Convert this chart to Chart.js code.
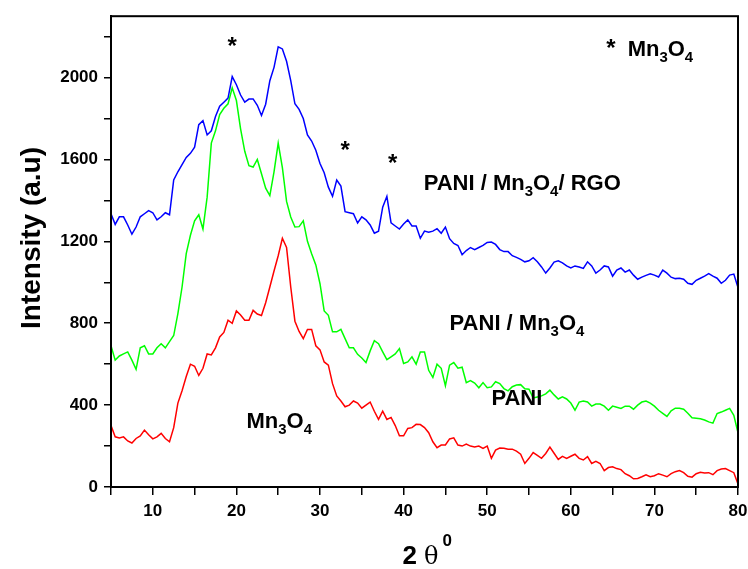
<!DOCTYPE html>
<html>
<head>
<meta charset="utf-8">
<script src="https://cdn.jsdelivr.net/npm/chart.js@4"></script>
<style>
  html, body { margin: 0; padding: 0; background: #fff; }
  #wrap { width: 748px; height: 569px; }
</style>
</head>
<body>
<div id="wrap"><canvas id="xrd"></canvas></div>
<script>
// 2-theta positions (degrees), shared by all three scans
const twoTheta = [];
for (let i = 0; i <= 150; i++) twoTheta.push(5 + i * 0.5);

// PANI / Mn3O4 / RGO
const rgoCounts = [
  1335, 1283, 1320, 1320, 1280, 1235, 1270, 1320, 1335, 1350,
  1340, 1305, 1320, 1340, 1330, 1500, 1540, 1575, 1610, 1630,
  1660, 1770, 1790, 1720, 1740, 1810, 1860, 1880, 1900, 2005,
  1965, 1915, 1880, 1895, 1896, 1865, 1815, 1870, 1985, 2050,
  2150, 2140, 2080, 1985, 1872, 1845, 1800, 1720, 1690, 1645,
  1580, 1535, 1465, 1420, 1500, 1470, 1345, 1340, 1335, 1290,
  1320, 1305, 1280, 1240, 1250, 1367, 1420, 1290, 1275, 1260,
  1285, 1305, 1275, 1275, 1215, 1250, 1245, 1250, 1262, 1240,
  1270, 1213, 1190, 1180, 1135, 1155, 1170, 1160, 1170, 1180,
  1195, 1197, 1185, 1160, 1150, 1150, 1130, 1122, 1112, 1100,
  1105, 1120, 1100, 1075, 1045, 1070, 1099, 1105, 1095, 1080,
  1070, 1080, 1075, 1068, 1100, 1080, 1045, 1060, 1080, 1075,
  1030, 1060, 1070, 1050, 1060, 1035, 1015, 1025, 1034, 1042,
  1035, 1026, 1060, 1045, 1025, 1018, 1020, 1015, 995, 990,
  1010, 1020, 1030, 1042, 1030, 1020, 995, 1010, 1035, 1040,
  975
];

// PANI / Mn3O4
const composite = [
  690, 620, 640, 650, 660, 620, 575, 680, 690, 650,
  650, 680, 700, 680, 710, 740, 847, 977, 1140, 1230,
  1300, 1330, 1260, 1416, 1680, 1740, 1820, 1850, 1872, 1950,
  1888, 1750, 1640, 1570, 1563, 1600, 1530, 1460, 1424, 1540,
  1680, 1560, 1395, 1319, 1270, 1272, 1300, 1200, 1140, 1085,
  993, 860, 839, 758, 758, 770, 725, 680, 680, 648,
  630, 608, 665, 715, 700, 660, 622, 636, 650, 676,
  603, 611, 636, 600, 660, 660, 570, 535, 600, 580,
  495, 595, 608, 580, 585, 510, 520, 508, 485, 510,
  485, 489, 514, 505, 481, 470, 490, 498, 500, 480,
  478, 435, 440, 445, 455, 473, 450, 430, 440, 430,
  410, 375, 415, 420, 415, 395, 405, 405, 395, 375,
  395, 390, 384, 395, 395, 380, 400, 415, 420, 410,
  395, 375, 360, 345, 372, 385, 385, 380, 360, 338,
  336, 333, 327, 318, 312, 359, 366, 375, 384, 350,
  265
];

// Mn3O4
const oxide = [
  300, 245, 240, 245, 225, 215, 237, 250, 278, 255,
  235, 245, 262, 237, 221, 290, 410, 470, 540, 600,
  590, 545, 580, 650, 645, 680, 733, 755, 815, 800,
  860, 840, 815, 815, 863, 845, 838, 900, 977, 1055,
  1130, 1215, 1170, 977, 810, 760, 725, 770, 770, 690,
  670, 611, 595, 505, 445, 420, 392, 400, 420, 410,
  385, 400, 415, 370, 330, 370, 330, 340, 300, 250,
  250, 286, 290, 306, 305, 290, 265, 221, 192, 205,
  205, 235, 240, 205, 200, 210, 200, 195, 200, 189,
  200, 140, 180, 190, 189, 185, 185, 175, 160, 115,
  140, 168, 155, 140, 164, 195, 165, 135, 150, 140,
  150, 160, 140, 132, 148, 115, 125, 115, 80, 95,
  99, 90, 85, 65, 55, 40, 42, 50, 59, 50,
  55, 65, 58, 50, 65, 75, 80, 70, 52, 48,
  65, 72, 68, 70, 60, 80, 88, 90, 80, 70,
  15
];

const FONT = '"Liberation Sans", Arial, sans-serif';

function pts(ys) {
  return ys.map((y, i) => ({ x: twoTheta[i], y: y }));
}

// text with subscript pieces, e.g. Mn3O4
function richText(ctx, parts, x, y, size) {
  let cx = x;
  parts.forEach(p => {
    const s = p.sub ? size * 0.68 : size;
    ctx.font = 'bold ' + s + 'px ' + FONT;
    ctx.fillText(p.t, cx, p.sub ? y + size * 0.28 : y);
    cx += ctx.measureText(p.t).width;
  });
}

const notes = [
  { x: 19.5, y: 2155, parts: [{ t: '*' }], center: true },
  { x: 33.0, y: 1645, parts: [{ t: '*' }], center: true },
  { x: 38.7, y: 1585, parts: [{ t: '*' }], center: true },
  { x: 64.8, y: 2145, parts: [{ t: '*' }], center: true },
  { x: 66.8, y: 2107, parts: [{ t: 'Mn' }, { t: '3', sub: true }, { t: 'O' }, { t: '4', sub: true }] },
  { x: 42.4, y: 1450, parts: [{ t: 'PANI / Mn' }, { t: '3', sub: true }, { t: 'O' }, { t: '4', sub: true }, { t: '/ RGO' }] },
  { x: 45.5, y: 766, parts: [{ t: 'PANI / Mn' }, { t: '3', sub: true }, { t: 'O' }, { t: '4', sub: true }] },
  { x: 50.5, y: 400, parts: [{ t: 'PANI' }] },
  { x: 21.2, y: 288, parts: [{ t: 'Mn' }, { t: '3', sub: true }, { t: 'O' }, { t: '4', sub: true }] }
];

const labelsPlugin = {
  id: 'labels',
  afterDatasetsDraw(chart) {
    const { ctx, scales, chartArea } = chart;
    ctx.save();
    ctx.fillStyle = '#000';
    ctx.textBaseline = 'alphabetic';
    notes.forEach(n => {
      const px = scales.x.getPixelForValue(n.x);
      const py = scales.y.getPixelForValue(n.y);
      if (n.center) {
        ctx.textAlign = 'center';
        ctx.font = 'bold 24px ' + FONT;
        ctx.fillText(n.parts[0].t, px, py + 8);
      } else {
        ctx.textAlign = 'left';
        richText(ctx, n.parts, px, py, 22);
      }
    });
    // frame round the plot
    ctx.strokeStyle = '#000';
    ctx.lineWidth = 2;
    ctx.strokeRect(chartArea.left, chartArea.top, chartArea.right - chartArea.left, chartArea.bottom - chartArea.top);

    // y axis title
    ctx.save();
    ctx.translate(40, 238);
    ctx.rotate(-Math.PI / 2);
    ctx.textAlign = 'center';
    ctx.font = 'bold 28px ' + FONT;
    ctx.fillText('Intensity (a.u)', 0, 0);
    ctx.restore();

    // x axis title: 2 theta with superscript 0
    const cx = (chartArea.left + chartArea.right) / 2;
    ctx.textAlign = 'left';
    ctx.font = 'bold 26px ' + FONT;
    const w2 = ctx.measureText('2 ').width;
    ctx.font = '24px "DejaVu Serif", serif';
    const wt = ctx.measureText('\u03b8').width;
    const x0 = cx - (w2 + wt + 12) / 2 + 2;
    ctx.font = 'bold 26px ' + FONT;
    ctx.fillText('2 ', x0, 564);
    ctx.font = '24px "DejaVu Serif", serif';
    ctx.fillText('\u03b8', x0 + w2, 564);
    ctx.font = 'bold 17px ' + FONT;
    ctx.fillText('0', x0 + w2 + wt + 4, 546);
    ctx.restore();
  }
};

new Chart(document.getElementById('xrd'), {
  type: 'line',
  data: {
    datasets: [
      { label: 'Mn3O4', data: pts(oxide), borderColor: '#ff0000' },
      { label: 'PANI / Mn3O4', data: pts(composite), borderColor: '#00ff00' },
      { label: 'PANI / Mn3O4 / RGO', data: pts(rgoCounts), borderColor: '#0000ff' }
    ]
  },
  options: {
    responsive: true,
    maintainAspectRatio: false,
    animation: false,
    layout: { padding: { top: 15, right: 0, left: 0, bottom: 0 } },
    datasets: { line: { borderWidth: 1.5, pointRadius: 0, tension: 0, fill: false } },
    plugins: { legend: { display: false }, tooltip: { enabled: false } },
    scales: {
      x: {
        type: 'linear',
        min: 5,
        max: 80,
        afterFit(s) {
          s.height = 82;
          s.paddingLeft = 0;
          s.paddingRight = 10;
        },
        grid: { drawOnChartArea: false, drawTicks: true, tickLength: 8, color: '#000', lineWidth: 1.5 },
        border: { display: true, color: '#000', width: 2 },
        ticks: {
          stepSize: 5,
          color: '#000',
          padding: 6,
          maxRotation: 0,
          font: { family: FONT, size: 17, weight: 'bold' },
          callback: v => (v % 10 === 0 ? v : '')
        }
      },
      y: {
        min: 0,
        max: 2300,
        afterFit(s) { s.width = 111; },
        afterBuildTicks(s) { s.ticks = s.ticks.filter(t => t.value % 200 === 0); },
        grid: { drawOnChartArea: false, drawTicks: true, tickLength: 7, color: '#000', lineWidth: 1.5 },
        border: { display: true, color: '#000', width: 2 },
        ticks: {
          stepSize: 200,
          color: '#000',
          padding: 6,
          font: { family: FONT, size: 17, weight: 'bold' },
          callback: v => (v % 400 === 0 ? v : '')
        }
      }
    }
  },
  plugins: [labelsPlugin]
});
</script>
</body>
</html>
